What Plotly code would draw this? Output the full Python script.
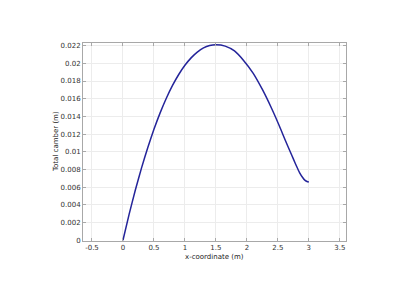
import plotly.graph_objects as go

x_coord = [0, 0.1, 0.2, 0.3, 0.4, 0.5, 0.6, 0.7, 0.8, 0.9, 1.0, 1.1, 1.2, 1.3, 1.4, 1.5,
           1.65, 1.8, 1.95, 2.1, 2.25, 2.4, 2.55, 2.62, 2.7, 2.75, 2.8, 2.85, 2.9, 2.94, 2.97, 3.0]
camber = [0, 0.00295, 0.00568, 0.00818, 0.01047, 0.01254, 0.01440, 0.01605, 0.01750, 0.01874,
          0.01978, 0.02062, 0.02127, 0.02174, 0.02201, 0.02210,
          0.02195, 0.02140, 0.02030, 0.01890, 0.01705, 0.01490, 0.01250, 0.01130, 0.01000,
          0.00920, 0.00840, 0.00765, 0.00710, 0.00677, 0.00664, 0.00660]

x_ticks = [-0.5, 0, 0.5, 1, 1.5, 2, 2.5, 3, 3.5]
x_ticktext = ["-0.5", "0", "0.5", "1", "1.5", "2", "2.5", "3", "3.5"]
y_ticks = [0, 0.002, 0.004, 0.006, 0.008, 0.01, 0.012, 0.014, 0.016, 0.018, 0.02, 0.022]
y_ticktext = ["0", "0.002", "0.004", "0.006", "0.008", "0.01", "0.012", "0.014", "0.016", "0.018", "0.02", "0.022"]

fig = go.Figure()
fig.add_trace(go.Scatter(x=x_coord, y=camber, mode="lines",
                         line=dict(color="#24249a", width=1.5, shape="spline", smoothing=0.5)))

axis_common = dict(showline=True, linecolor="#a8a8a8", linewidth=1, mirror="ticks",
                   ticks="inside", ticklen=3, tickcolor="#a8a8a8",
                   showgrid=True, gridcolor="#ececec", gridwidth=1, zeroline=False,
                   tickfont=dict(family="DejaVu Sans", size=7, color="#333333"))

fig.update_layout(
    width=420, height=290,
    margin=dict(l=83, r=74, t=43, b=49),
    paper_bgcolor="white", plot_bgcolor="white",
    showlegend=False,
    xaxis=dict(range=[-0.645, 3.6], tickvals=x_ticks, ticktext=x_ticktext, **axis_common),
    yaxis=dict(range=[-0.00008, 0.0223], tickvals=y_ticks, ticktext=y_ticktext, **axis_common),
    annotations=[
        dict(text="x-coordinate (m)", xref="paper", yref="paper", x=0.5, y=0, yshift=-10,
             xanchor="center", yanchor="top", showarrow=False,
             font=dict(family="DejaVu Sans", size=7, color="#222222")),
        dict(text="Total camber (m)", xref="paper", yref="paper", x=0, y=0.5, xshift=-21,
             xanchor="right", yanchor="middle", textangle=-90, showarrow=False,
             font=dict(family="DejaVu Sans", size=7, color="#222222")),
    ],
)

fig.write_html("out.html")
